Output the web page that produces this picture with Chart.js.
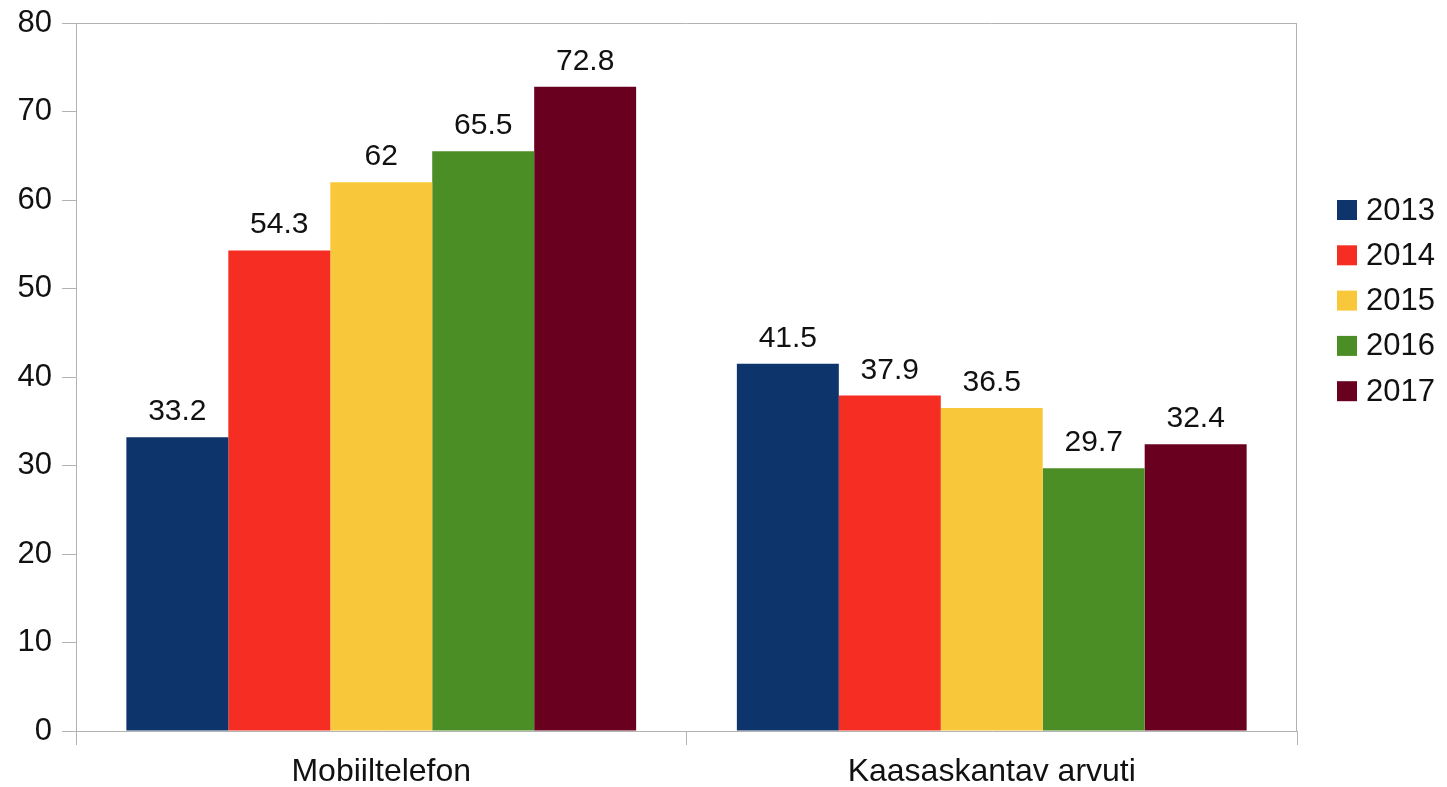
<!DOCTYPE html>
<html>
<head>
<meta charset="utf-8">
<script src="https://cdn.jsdelivr.net/npm/chart.js@4"></script>
<style>
html,body{margin:0;padding:0;background:#fff;}
#wrap{width:1447px;height:787px;position:relative;}
</style>
</head>
<body>
<div id="wrap"><canvas id="c"></canvas></div>
<script>
const categories = ["Mobiiltelefon", "Kaasaskantav arvuti"];
const years = ["2013", "2014", "2015", "2016", "2017"];
const v2013 = [33.2, 41.5];
const v2014 = [54.3, 37.9];
const v2015 = [62, 36.5];
const v2016 = [65.5, 29.7];
const v2017 = [72.8, 32.4];
const yTicks = [0, 10, 20, 30, 40, 50, 60, 70, 80];
const colors = ["#0d356c", "#f62d22", "#f9c83a", "#4a8e25", "#6a001f"];

const seriesValues = [v2013, v2014, v2015, v2016, v2017];
const FONT = "'Liberation Sans', Arial, sans-serif";
const GRID = "#b3b3b3";

const frame = {
  id: "frame",
  afterDraw(chart) {
    const a = chart.chartArea, ctx = chart.ctx;
    ctx.save();
    ctx.strokeStyle = GRID;
    ctx.lineWidth = 1;
    ctx.beginPath();
    ctx.moveTo(a.left, a.top + 0.5);
    ctx.lineTo(a.right, a.top + 0.5);
    ctx.moveTo(a.right - 0.5, a.top);
    ctx.lineTo(a.right - 0.5, a.bottom);
    ctx.stroke();
    ctx.restore();
  }
};

const valueLabels = {
  id: "valueLabels",
  afterDatasetsDraw(chart) {
    const ctx = chart.ctx;
    ctx.save();
    ctx.font = "30px " + FONT;
    ctx.fillStyle = "#111";
    ctx.textAlign = "center";
    ctx.textBaseline = "alphabetic";
    chart.data.datasets.forEach((ds, i) => {
      const meta = chart.getDatasetMeta(i);
      meta.data.forEach((bar, j) => {
        ctx.fillText(String(ds.data[j]), bar.x, bar.y - 17);
      });
    });
    ctx.restore();
  }
};

const customLegend = {
  id: "customLegend",
  afterDraw(chart) {
    const ctx = chart.ctx;
    ctx.save();
    ctx.font = "31px " + FONT;
    ctx.textAlign = "left";
    ctx.textBaseline = "middle";
    chart.data.datasets.forEach((ds, i) => {
      const cy = 210 + i * 45.3;
      ctx.fillStyle = ds.backgroundColor;
      ctx.fillRect(1337, cy - 10, 20, 20);
      ctx.fillStyle = "#111";
      ctx.fillText(ds.label, 1366, cy + 1);
    });
    ctx.restore();
  }
};

new Chart(document.getElementById("c"), {
  type: "bar",
  data: {
    labels: categories,
    datasets: years.map((y, i) => ({
      label: y,
      data: seriesValues[i],
      backgroundColor: colors[i],
      borderWidth: 0,
      categoryPercentage: 0.835,
      barPercentage: 1.0
    }))
  },
  options: {
    responsive: true,
    maintainAspectRatio: false,
    devicePixelRatio: 1,
    animation: false,
    layout: { padding: { left: 0, top: 23, right: 150, bottom: 0 } },
    plugins: {
      legend: { display: false },
      tooltip: { enabled: false }
    },
    scales: {
      x: {
        grid: { display: true, drawOnChartArea: false, drawTicks: true, tickLength: 14, color: GRID, offset: true },
        border: { display: true, color: GRID, width: 1 },
        ticks: { color: "#111", font: { family: FONT, size: 32 }, padding: 8 },
        afterFit(scale) { scale.height = 56; scale.paddingLeft = 0; scale.paddingRight = 0; }
      },
      y: {
        min: 0,
        max: 80,
        afterBuildTicks(scale) { scale.ticks = yTicks.map(v => ({ value: v })); },
        grid: { display: true, drawOnChartArea: false, drawTicks: true, tickLength: 14, color: GRID },
        border: { display: true, color: GRID, width: 1 },
        ticks: { color: "#111", font: { family: FONT, size: 31 }, padding: 10 },
        afterFit(scale) { scale.width = 76; scale.paddingTop = 0; scale.paddingBottom = 0; }
      }
    }
  },
  plugins: [frame, valueLabels, customLegend]
});
</script>
</body>
</html>
